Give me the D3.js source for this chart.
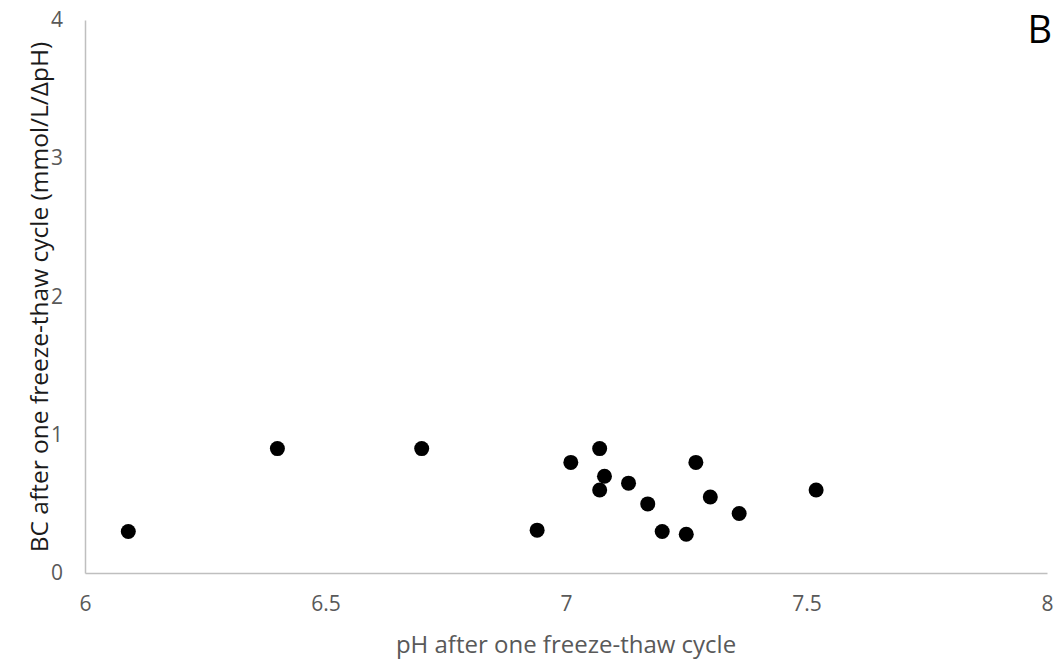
<!DOCTYPE html>
<html>
<head>
<meta charset="utf-8">
<script src="https://cdn.jsdelivr.net/npm/d3@7"></script>
<style>
  body { margin: 0; background: #fff; }
  svg { display: block; font-family: "Open Sans", sans-serif; }
</style>
</head>
<body>
<svg id="chart"></svg>
<script>
// data
const phValues = [6.09, 6.40, 6.70, 6.94, 7.01, 7.07, 7.08, 7.07, 7.13, 7.17, 7.20, 7.25, 7.27, 7.30, 7.36, 7.52];
const bcValues = [0.30, 0.90, 0.90, 0.31, 0.80, 0.90, 0.70, 0.60, 0.65, 0.50, 0.30, 0.28, 0.80, 0.55, 0.43, 0.60];
const xTicks = [6, 6.5, 7, 7.5, 8];
const yTicks = [0, 1, 2, 3, 4];

const width = 1060;
const height = 663;
const margin = { top: 20, right: 13, bottom: 90, left: 85 };

const svg = d3.select("#chart").attr("width", width).attr("height", height);

const x = d3.scaleLinear().domain([6, 8]).range([margin.left, width - margin.right]);
const y = d3.scaleLinear().domain([0, 4]).range([height - margin.bottom, margin.top]);

// axes, no tick marks, just the gray lines and labels
const xAxis = svg.append("g")
    .attr("transform", `translate(0,${y(0)})`)
    .call(d3.axisBottom(x).tickValues(xTicks).tickSize(0).tickPadding(23).tickFormat(d3.format("")));
const yAxis = svg.append("g")
    .attr("transform", `translate(${x(6)},0)`)
    .call(d3.axisLeft(y).tickValues(yTicks).tickSize(0).tickPadding(22).tickFormat(d3.format("")));

[xAxis, yAxis].forEach(g => {
    g.attr("font-size", null).attr("font-family", null);
    g.select(".domain").attr("stroke", "#bfbfbf").attr("stroke-width", 1.5);
    g.selectAll("text").attr("fill", "#595959").style("font-size", "21px");
});

// points
svg.append("g")
    .selectAll("circle")
    .data(phValues)
    .enter()
    .append("circle")
    .attr("cx", d => x(d))
    .attr("cy", (d, i) => y(bcValues[i]))
    .attr("r", 7.5)
    .attr("fill", "#000");

// titles
svg.append("text")
    .attr("x", 566)
    .attr("y", 653)
    .attr("text-anchor", "middle")
    .attr("fill", "#595959")
    .style("font-size", "24px")
    .text("pH after one freeze-thaw cycle");

svg.append("text")
    .attr("transform", `translate(48,297) rotate(-90)`)
    .attr("text-anchor", "middle")
    .attr("fill", "#1a1a1a")
    .style("font-size", "24.5px")
    .text("BC after one freeze-thaw cycle (mmol/L/ΔpH)");

svg.append("text")
    .attr("x", 1052)
    .attr("y", 43)
    .attr("text-anchor", "end")
    .attr("fill", "#000")
    .style("font-size", "38px")
    .text("B");
</script>
</body>
</html>
